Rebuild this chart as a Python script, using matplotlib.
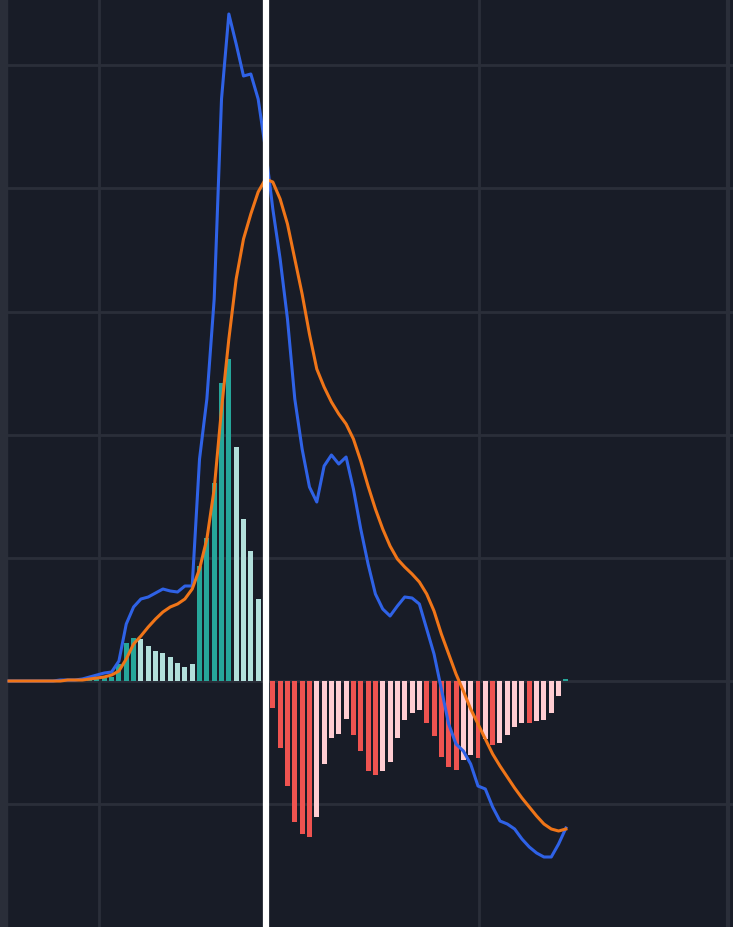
import matplotlib
matplotlib.use("Agg")
import matplotlib.pyplot as plt
import numpy as np

hist = [0, -1, -1, -1, -1, 0, 1, 1, 1, 2, 2, 2, 3, 3, 4,
        17, 38, 43, 42, 35, 30, 28, 24, 18, 14, 17, 115, 143, 198, 298, 322, 234, 162, 130, 82, 25,
        -27, -67, -105, -141, -153, -156, -136, -83, -57, -53, -38,
        -54, -70, -90, -94, -90, -81, -57, -39, -32, -29,
        -42, -55, -76, -86, -89, -79, -74, -77, -58, -64, -62,
        -54, -46, -42, -42, -40, -39, -32, -15, 2]
hist_colors = (["#ef5350"] + ["#ffcdd2"] * 4 + ["#26a69a"] * 10 +
               ["#26a69a"] * 3 + ["#b2dfdb"] * 8 + ["#26a69a"] * 5 + ["#b2dfdb"] * 4 + ["#9fd6cf"] +
               ["#ef5350"] * 6 + ["#ffcdd2"] * 5 +
               ["#ef5350"] * 4 + ["#ffcdd2"] * 6 +
               ["#ef5350"] * 5 + ["#ffcdd2"] * 2 + ["#ef5350", "#ffcdd2", "#ef5350", "#ffcdd2"] +
               ["#ffcdd2"] * 3 + ["#ef5350"] + ["#ffcdd2"] * 4 + ["#26a69a"])
macd = [0, 0, 0, 0, 0, 0, 0, 1, 1, 1, 2, 4, 6, 8, 9,
        20, 57, 74, 82, 84, 88, 92, 90, 89, 95, 95, 222, 282, 382, 582, 667, 637, 605, 607, 582, 532,
        472, 422, 362, 282, 232, 194, 179, 215, 226, 217, 224, 192, 152, 117, 87, 72, 65, 75, 84, 83,
        77, 52, 27, -8, -43, -63, -70, -83, -105, -108, -126, -140, -143, -148, -158, -166, -172,
        -176, -176, -163, -147]
signal = [0, 0, 0, 0, 0, 0, 0, 0, 1, 1, 1, 2, 3, 4, 6,
          10, 22, 37, 45, 54, 62, 69, 74, 77, 82, 92, 112, 142, 192, 272, 342, 402, 442, 467, 489, 502,
          499, 482, 457, 422, 387, 347, 312, 294, 279, 267, 257, 242, 220, 195, 172, 152, 135, 122,
          114, 107, 99, 87, 70, 47, 27, 7, -10, -28, -43, -58, -73, -85, -96, -107, -117, -126,
          -135, -143, -148, -150, -148]

bg = "#181c27"
grid = "#2a2e39"
fig = plt.figure(figsize=(7.33, 9.28), dpi=100, facecolor=bg)
ax = fig.add_axes([0, 0, 1, 1])
ax.set_facecolor(bg)
x = np.arange(len(hist))
ax.set_xlim(-1.23, 98.8)
ax.set_ylim(-246, 682)
for gy in [616, 493, 369, 246, 123, 0, -123]:
    ax.axhline(gy, color=grid, lw=2, zorder=0)
for gx in [12.28, 64.1]:
    ax.axvline(gx, color=grid, lw=2, zorder=0)
ax.axvspan(-1.23, -0.28, color="#2a2e39", zorder=0)
ax.axvline(98.1, color=grid, lw=3, zorder=0)
ax.bar(x, hist, width=0.68, color=hist_colors, zorder=2)
ax.plot(x, macd, color="#2f62e6", lw=2.2, zorder=3)
ax.plot(x, signal, color="#f07518", lw=2.2, zorder=4)
ax.axvline(35.06, color="white", lw=4.5, zorder=5)
ax.axis("off")
fig.savefig("out.png", dpi=100, facecolor=bg)
